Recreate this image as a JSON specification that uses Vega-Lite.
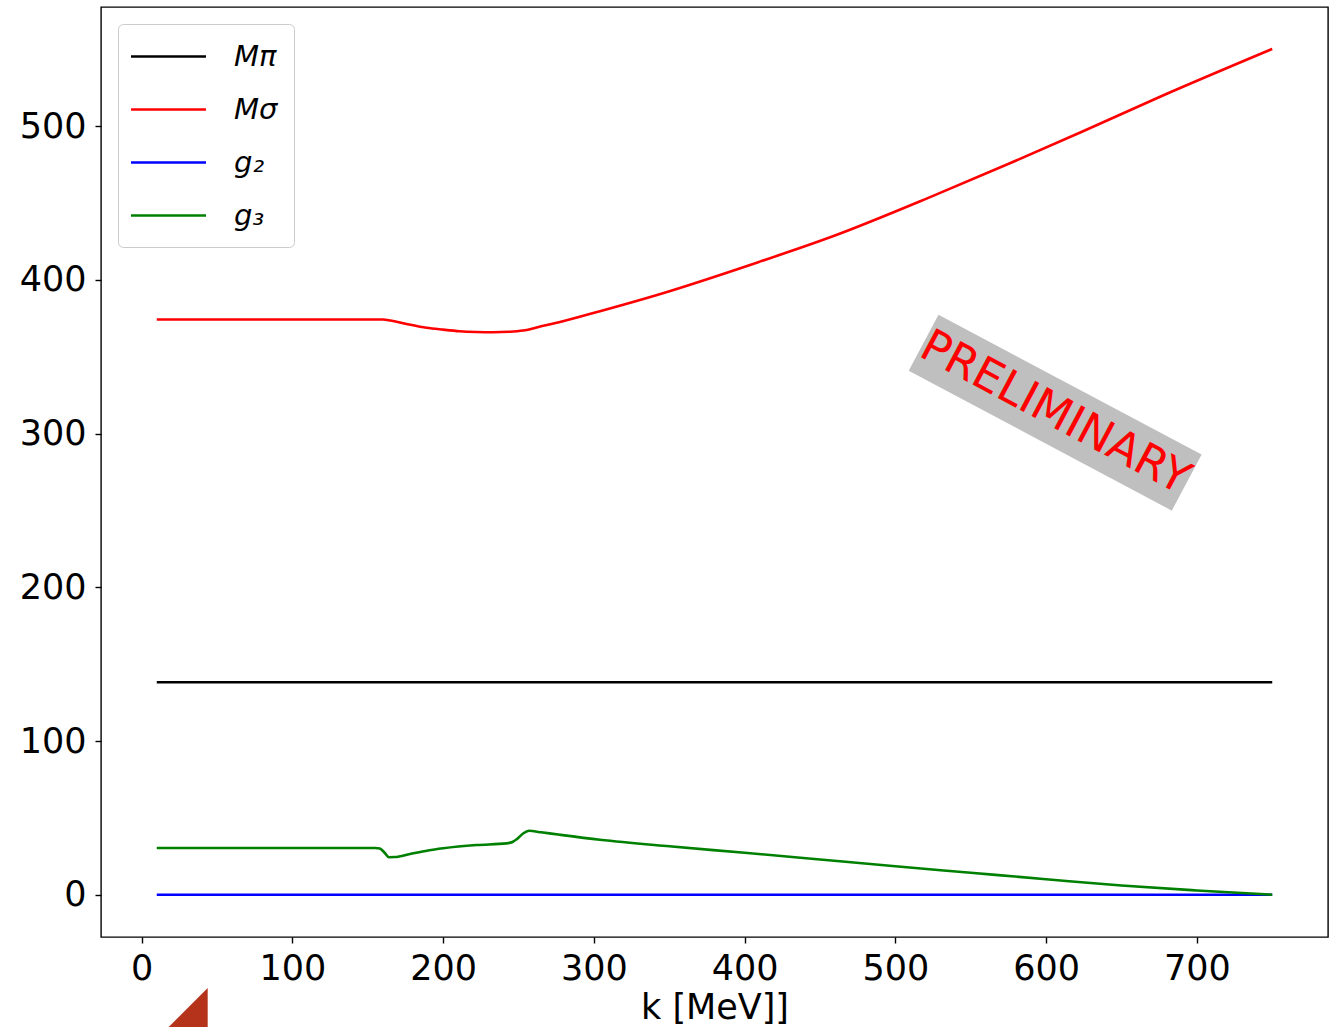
{
  "$schema": "https://vega.github.io/schema/vega-lite/v6.json",
  "width": 1227,
  "height": 930,
  "autosize": {"type": "none"},
  "padding": {"left": 101, "top": 7, "right": 12, "bottom": 90},
  "background": "white",
  "config": {
    "view": {"stroke": "black", "strokeWidth": 1.4},
    "font": "DejaVu Sans"
  },
  "datasets": {
    "curves": [
      {"k": 10, "v": 138.2, "s": "Mπ"},
      {"k": 750, "v": 138.2, "s": "Mπ"},
      {"k": 10, "v": 374.2, "s": "Mσ"},
      {"k": 160, "v": 374.2, "s": "Mσ"},
      {"k": 165, "v": 373.6, "s": "Mσ"},
      {"k": 175, "v": 371.5, "s": "Mσ"},
      {"k": 189, "v": 368.8, "s": "Mσ"},
      {"k": 200, "v": 367.6, "s": "Mσ"},
      {"k": 211, "v": 366.6, "s": "Mσ"},
      {"k": 222, "v": 366.1, "s": "Mσ"},
      {"k": 233, "v": 365.9, "s": "Mσ"},
      {"k": 244, "v": 366.2, "s": "Mσ"},
      {"k": 253, "v": 367.0, "s": "Mσ"},
      {"k": 265, "v": 369.8, "s": "Mσ"},
      {"k": 277.5, "v": 372.6, "s": "Mσ"},
      {"k": 304, "v": 379.6, "s": "Mσ"},
      {"k": 343, "v": 390.5, "s": "Mσ"},
      {"k": 409, "v": 411.5, "s": "Mσ"},
      {"k": 459, "v": 428.5, "s": "Mσ"},
      {"k": 525, "v": 454.6, "s": "Mσ"},
      {"k": 574, "v": 475.0, "s": "Mσ"},
      {"k": 623, "v": 496.0, "s": "Mσ"},
      {"k": 673, "v": 518.0, "s": "Mσ"},
      {"k": 750, "v": 550.2, "s": "Mσ"},
      {"k": 10, "v": 0, "s": "g₂"},
      {"k": 750, "v": 0, "s": "g₂"},
      {"k": 10, "v": 30.4, "s": "g₃"},
      {"k": 155, "v": 30.4, "s": "g₃"},
      {"k": 158, "v": 30.0, "s": "g₃"},
      {"k": 161, "v": 27.5, "s": "g₃"},
      {"k": 164, "v": 24.4, "s": "g₃"},
      {"k": 168, "v": 24.5, "s": "g₃"},
      {"k": 178, "v": 26.5, "s": "g₃"},
      {"k": 190, "v": 28.8, "s": "g₃"},
      {"k": 200, "v": 30.2, "s": "g₃"},
      {"k": 222, "v": 32.3, "s": "g₃"},
      {"k": 242, "v": 33.4, "s": "g₃"},
      {"k": 246, "v": 34.3, "s": "g₃"},
      {"k": 249, "v": 36.2, "s": "g₃"},
      {"k": 253, "v": 39.8, "s": "g₃"},
      {"k": 257, "v": 41.6, "s": "g₃"},
      {"k": 265, "v": 40.6, "s": "g₃"},
      {"k": 277.5, "v": 39.0, "s": "g₃"},
      {"k": 304, "v": 35.8, "s": "g₃"},
      {"k": 350, "v": 31.5, "s": "g₃"},
      {"k": 400, "v": 27.3, "s": "g₃"},
      {"k": 450, "v": 22.9, "s": "g₃"},
      {"k": 500, "v": 18.5, "s": "g₃"},
      {"k": 550, "v": 14.3, "s": "g₃"},
      {"k": 600, "v": 10.1, "s": "g₃"},
      {"k": 650, "v": 6.0, "s": "g₃"},
      {"k": 700, "v": 2.8, "s": "g₃"},
      {"k": 750, "v": 0, "s": "g₃"}
    ],
    "note": [{"k": 606, "v": 313.6, "label": "PRELIMINARY"}],
    "corner": [{"k": 30.5, "v": -73.7}]
  },
  "layer": [
    {
      "data": {"name": "curves"},
      "mark": {"type": "line", "strokeWidth": 2.6, "interpolate": "monotone"},
      "encoding": {
        "x": {
          "field": "k", "type": "quantitative",
          "scale": {"domain": [-27, 787], "nice": false, "zero": false},
          "axis": {
            "values": [0, 100, 200, 300, 400, 500, 600, 700],
            "grid": false, "domain": false,
            "tickColor": "black", "tickWidth": 1.4, "tickSize": 6,
            "labelFont": "DejaVu Sans", "labelFontSize": 35, "labelColor": "black",
            "labelPadding": 8, "labelFlush": false,
            "title": "k [MeV]]", "titleFont": "DejaVu Sans", "titleFontSize": 35,
            "titleFontWeight": "normal", "titleColor": "black",
            "titleBaseline": "alphabetic", "titleY": 81
          }
        },
        "y": {
          "field": "v", "type": "quantitative",
          "scale": {"domain": [-27.5, 577.5], "nice": false, "zero": false},
          "axis": {
            "values": [0, 100, 200, 300, 400, 500],
            "grid": false, "domain": false,
            "tickColor": "black", "tickWidth": 1.4, "tickSize": 6,
            "labelFont": "DejaVu Sans", "labelFontSize": 35, "labelColor": "black",
            "labelPadding": 9, "labelFlush": false,
            "title": null
          }
        },
        "color": {
          "field": "s", "type": "nominal",
          "scale": {"domain": ["Mπ", "Mσ", "g₂", "g₃"], "range": ["#000000", "#ff0000", "#0000ff", "#008000"]},
          "legend": {
            "orient": "top-left", "offset": 17, "title": null,
            "symbolType": "M -2.5 0 L 2.5 0", "symbolSize": 900, "symbolStrokeWidth": 2.6,
            "symbolOffset": 18,
            "labelFont": "DejaVu Sans", "labelFontSize": 29, "labelFontStyle": "italic",
            "labelColor": "black", "labelOffset": 49,
            "padding": 16, "rowPadding": 21,
            "strokeColor": "#cccccc", "fillColor": "white", "cornerRadius": 5
          }
        }
      }
    },
    {
      "data": {"name": "note"},
      "mark": {
        "type": "point",
        "shape": "M -1 -0.213 L 1 -0.213 L 1 0.213 L -1 0.213 Z",
        "filled": true, "color": "#bfbfbf", "opacity": 1,
        "size": 88804, "angle": 28, "strokeWidth": 0
      },
      "encoding": {
        "x": {"field": "k", "type": "quantitative"},
        "y": {"field": "v", "type": "quantitative"}
      }
    },
    {
      "data": {"name": "note"},
      "mark": {
        "type": "text", "angle": 28, "fontSize": 45, "font": "DejaVu Sans",
        "color": "#ff0000", "align": "center", "baseline": "middle"
      },
      "encoding": {
        "x": {"field": "k", "type": "quantitative"},
        "y": {"field": "v", "type": "quantitative"},
        "text": {"field": "label"}
      }
    },
    {
      "data": {"name": "corner"},
      "mark": {
        "type": "point",
        "shape": "M -1 1 L 1 -1 L 1 1 Z",
        "filled": true, "color": "#b5331a", "opacity": 1,
        "size": 1600, "strokeWidth": 0
      },
      "encoding": {
        "x": {"field": "k", "type": "quantitative"},
        "y": {"field": "v", "type": "quantitative"}
      }
    }
  ]
}
